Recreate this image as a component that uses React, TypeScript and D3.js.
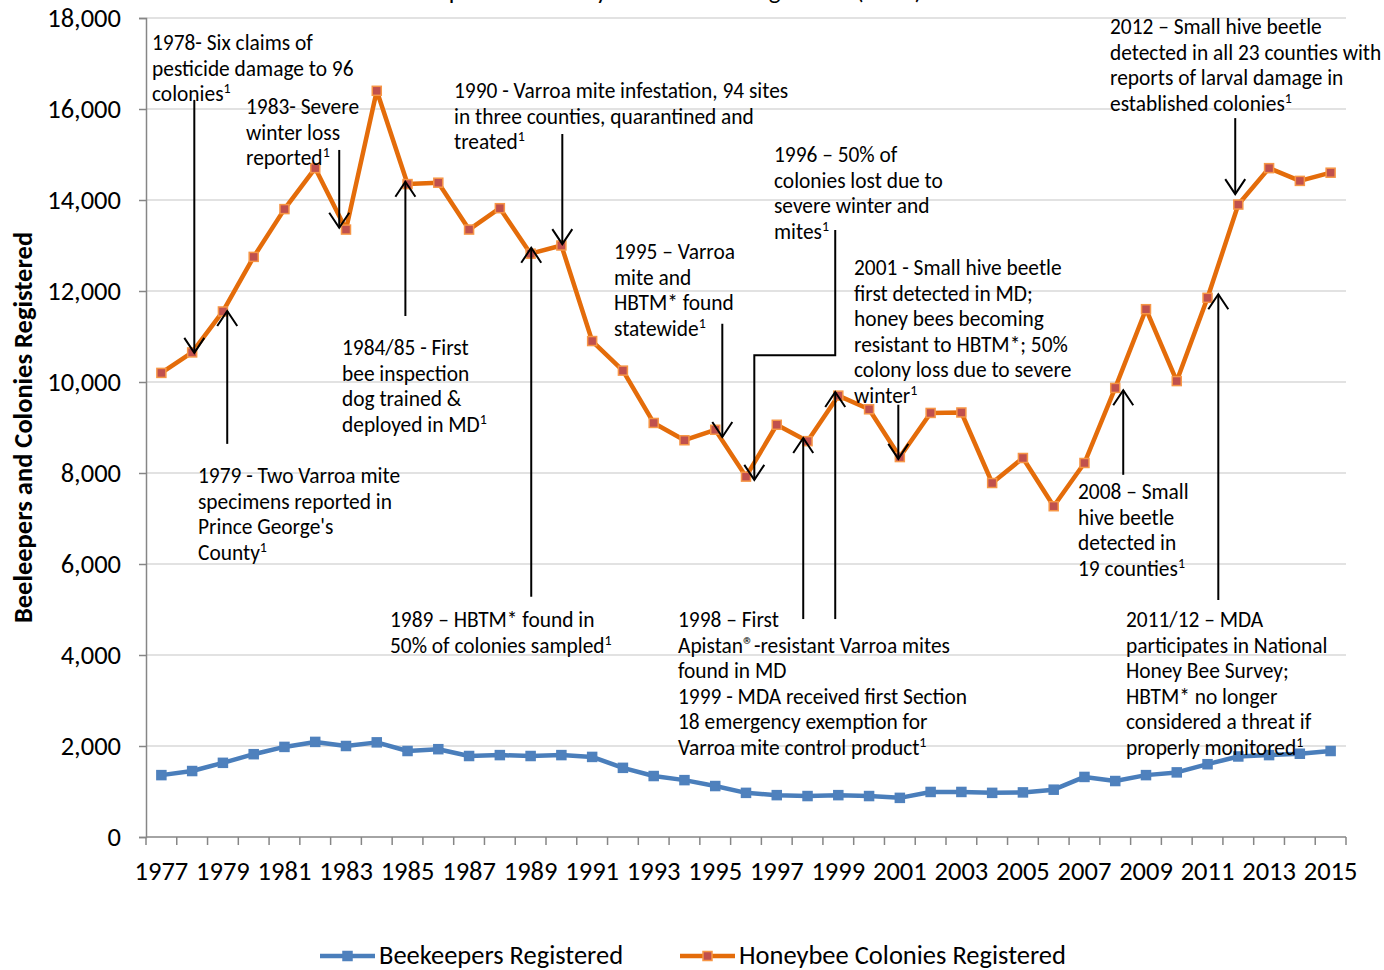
import React, { useEffect, useRef } from "react";
import * as d3 from "d3";

// Registration data
const years = [
  1977, 1978, 1979, 1980, 1981, 1982, 1983, 1984, 1985, 1986, 1987, 1988, 1989,
  1990, 1991, 1992, 1993, 1994, 1995, 1996, 1997, 1998, 1999, 2000, 2001, 2002,
  2003, 2004, 2005, 2006, 2007, 2008, 2009, 2010, 2011, 2012, 2013, 2014, 2015,
];
const beekeepers = [
  1360, 1450, 1630, 1820, 1980, 2090, 2000, 2080, 1890, 1930, 1780, 1800, 1780,
  1800, 1760, 1520, 1340, 1250, 1120, 970, 920, 900, 920, 900, 860, 990,
  990, 970, 980, 1040, 1320, 1230, 1360, 1420, 1600, 1770, 1800, 1830, 1890,
];
const colonies = [
  10200, 10650, 11550, 12750, 13800, 14700, 13350, 16400, 14350, 14380, 13350, 13820, 12820,
  13000, 10900, 10250, 9100, 8720, 8950, 7920, 9060, 8700, 9700, 9400, 8350, 9320,
  9330, 7780, 8330, 7270, 8220, 9870, 11600, 10020, 11850, 13900, 14700, 14420, 14600,
];
const yTicks = [0, 2000, 4000, 6000, 8000, 10000, 12000, 14000, 16000, 18000];
const xLabels = years.filter((y, i) => i % 2 === 0);

const seriesNames = ["Beekeepers Registered", "Honeybee Colonies Registered"];

// Annotation texts
const notes = [
  ["1978- Six claims of", "pesticide damage to 96", "colonies¹"],
  ["1983- Severe", "winter loss", "reported¹"],
  ["1984/85  - First", "bee inspection", "dog trained &", "deployed in MD¹"],
  ["1979 - Two Varroa mite", "specimens reported in", "Prince George's", "County¹"],
  ["1990 - Varroa mite infestation, 94 sites", "in three counties, quarantined and", "treated¹"],
  ["1989 – HBTM* found in", "50% of  colonies sampled¹"],
  ["1995 – Varroa", "mite and", "HBTM* found", "statewide¹"],
  ["1996 – 50% of", "colonies lost due to", "severe winter and", "mites¹"],
  ["1998 – First", "Apistan®-resistant Varroa mites", "found in MD", "1999 - MDA received first Section", "18 emergency exemption for", "Varroa mite control product¹"],
  ["2001 -  Small hive beetle", "first detected in MD;", "honey bees becoming", "resistant to HBTM*; 50%", "colony loss due to severe", "winter¹"],
  ["2008 – Small", "hive beetle", "detected in", "19 counties¹"],
  ["2012 – Small hive beetle", "detected in all 23 counties with", "reports of  larval damage in", "established colonies¹"],
  ["2011/12 – MDA", "participates in National", "Honey Bee Survey;", "HBTM* no longer", "considered a threat if", "properly monitored¹"],
];
// where each note block sits (left x, first baseline)
const notePos = [
  [152, 50], [246, 114], [342, 355], [198, 483], [454, 98], [390, 627], [614, 259],
  [774, 162], [678, 627], [854, 275], [1078, 499], [1110, 34], [1126, 627],
];

// Arrows as [year, value] paths; the last point is the tip
const arrows = [
  [[1978.07, 16200], [1978.07, 10640]],
  [[1982.78, 15100], [1982.78, 13390]],
  [[1984.93, 11450], [1984.93, 14400]],
  [[1979.14, 8640], [1979.14, 11560]],
  [[1990.03, 15450], [1990.03, 13030]],
  [[1989.02, 5280], [1989.02, 12950]],
  [[1995.23, 11280], [1995.23, 8790]],
  [[1998.9, 13340], [1998.9, 10590], [1996.27, 10590], [1996.27, 7850]],
  [[1997.86, 4790], [1997.86, 8770]],
  [[1998.9, 4790], [1998.9, 9780]],
  [[2000.95, 9500], [2000.95, 8310]],
  [[2008.26, 7960], [2008.26, 9820]],
  [[2011.9, 15800], [2011.9, 14130]],
  [[2011.35, 5210], [2011.35, 11930]],
];

const FONT = "Carlito, Calibri, Lato, sans-serif";

function App() {
  const ref = useRef<SVGSVGElement>(null);

  useEffect(() => {
    const width = 1384, height = 970;
    const margin = { top: 18, right: 38, bottom: 133, left: 146 };
    const svg = d3.select(ref.current);
    svg.selectAll("*").remove();

    const x = d3.scaleLinear()
      .domain([1976.5, 2015.5])
      .range([margin.left, width - margin.right]);
    const y = d3.scaleLinear()
      .domain([0, 18000])
      .range([height - margin.bottom, margin.top]);

    // title, cut off at the top edge as in the source
    svg.append("text")
      .attr("x", 922).attr("y", -1)
      .attr("text-anchor", "end")
      .style("font-family", FONT).style("font-size", "25px")
      .text("Beekeepers and Honeybee Colonies Registered (MDA)");

    // gridlines
    svg.append("g").selectAll("line")
      .data(yTicks.slice(1))
      .join("line")
        .attr("x1", margin.left).attr("x2", width - margin.right)
        .attr("y1", d => y(d)).attr("y2", d => y(d))
        .attr("stroke", "#d9d9d9").attr("stroke-width", 1.5);

    // y axis
    const yAxis = svg.append("g")
      .attr("transform", `translate(${margin.left},0)`)
      .call(d3.axisLeft(y).tickValues(yTicks).tickSize(7).tickPadding(18).tickFormat(d3.format(",")));
    yAxis.select(".domain").attr("stroke", "#868686").attr("stroke-width", 1.5);
    yAxis.selectAll(".tick line").attr("stroke", "#868686").attr("stroke-width", 1.5);
    yAxis.selectAll(".tick text")
      .style("font-family", FONT).style("font-size", "26.5px").attr("fill", "#000");

    // x axis: ticks between years, labels on every other year
    const xAxis = svg.append("g")
      .attr("transform", `translate(0,${y(0)})`);
    xAxis.append("line")
      .attr("x1", margin.left).attr("x2", width - margin.right)
      .attr("stroke", "#868686").attr("stroke-width", 1.5);
    xAxis.selectAll("line.tk")
      .data(years.map(d => d - 0.5).concat([2015.5]))
      .join("line")
        .attr("class", "tk")
        .attr("x1", d => x(d)).attr("x2", d => x(d))
        .attr("y1", 0).attr("y2", 8)
        .attr("stroke", "#868686").attr("stroke-width", 1.5);
    xAxis.selectAll("text")
      .data(xLabels)
      .join("text")
        .attr("x", d => x(d)).attr("y", 43)
        .attr("text-anchor", "middle")
        .style("font-family", FONT).style("font-size", "26.5px")
        .text(d => d);

    // y axis title
    svg.append("text")
      .attr("transform", `translate(32,${(y(0) + y(18000)) / 2}) rotate(-90)`)
      .attr("text-anchor", "middle")
      .style("font-family", FONT).style("font-size", "26.5px").style("font-weight", "bold")
      .text("Beeleepers and Colonies Registered");

    const line = d3.line<number>()
      .x((d, i) => x(years[i]))
      .y(d => y(d));

    const series = [
      { values: beekeepers, stroke: "#4a7ebb", fill: "#4f81bd", mstroke: "#4f81bd" },
      { values: colonies, stroke: "#e46c0a", fill: "#c0504d", mstroke: "#f79646" },
    ];
    series.forEach(s => {
      svg.append("path")
        .datum(s.values)
        .attr("d", line)
        .attr("fill", "none")
        .attr("stroke", s.stroke)
        .attr("stroke-width", 4.5)
        .attr("stroke-linejoin", "round");
      svg.append("g").selectAll("rect")
        .data(s.values)
        .join("rect")
          .attr("x", (d, i) => x(years[i]) - 4.5)
          .attr("y", d => y(d) - 4.5)
          .attr("width", 9).attr("height", 9)
          .attr("fill", s.fill)
          .attr("stroke", s.mstroke).attr("stroke-width", 1.5);
    });

    // arrows
    const arrowLine = d3.line<number[]>().x(d => x(d[0])).y(d => y(d[1]));
    arrows.forEach(a => {
      svg.append("path")
        .attr("d", arrowLine(a))
        .attr("fill", "none").attr("stroke", "#000").attr("stroke-width", 2);
      const tip = a[a.length - 1], prev = a[a.length - 2];
      const tx = x(tip[0]), ty = y(tip[1]);
      const dir = y(prev[1]) > ty ? 1 : -1; // 1 = arrow points up
      svg.append("path")
        .attr("d", `M${tx - 10},${ty + dir * 15}L${tx},${ty}L${tx + 10},${ty + dir * 15}`)
        .attr("fill", "none").attr("stroke", "#000").attr("stroke-width", 2);
    });

    // annotation text
    notes.forEach((lines, k) => {
      const [nx, ny] = notePos[k];
      const t = svg.append("text")
        .style("font-family", FONT).style("font-size", "21.4px");
      lines.forEach((ln, j) => {
        const parts = ln.split("¹");
        t.append("tspan")
          .attr("x", nx).attr("y", ny + j * 25.6)
          .text(parts[0]);
        if (parts.length > 1) {
          t.append("tspan")
            .attr("dy", -8)
            .style("font-size", "14px")
            .text("1");
        }
      });
    });

    // legend
    const legend = svg.append("g").attr("transform", `translate(0,956)`);
    const lx = [320, 680];
    series.forEach((s, i) => {
      legend.append("line")
        .attr("x1", lx[i]).attr("x2", lx[i] + 55)
        .attr("stroke", s.stroke).attr("stroke-width", 4.5);
      legend.append("rect")
        .attr("x", lx[i] + 23).attr("y", -4.5)
        .attr("width", 9).attr("height", 9)
        .attr("fill", s.fill).attr("stroke", s.mstroke).attr("stroke-width", 1.5);
      legend.append("text")
        .attr("x", lx[i] + 59).attr("y", 8)
        .style("font-family", FONT).style("font-size", "26.5px")
        .text(seriesNames[i]);
    });
  }, []);

  return (
    <div>
      <style>{"body{margin:0}"}</style>
      <svg ref={ref} width={1384} height={970} style={{ display: "block", background: "#fff" }} />
    </div>
  );
}

export default App;
